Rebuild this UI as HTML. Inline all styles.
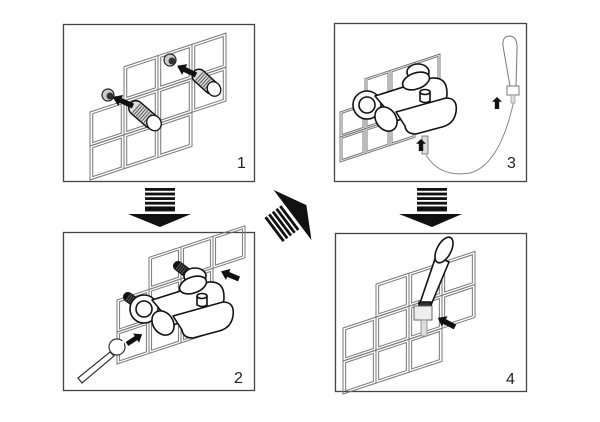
<!DOCTYPE html>
<html><head><meta charset="utf-8"><style>
html,body{margin:0;padding:0;background:#fff;}
svg{display:block;}
text{font-family:"Liberation Sans",sans-serif;font-size:16px;fill:#222;}
</style></head><body>
<svg width="600" height="422" viewBox="0 0 600 422" xmlns="http://www.w3.org/2000/svg">
<defs>
<g id="tile">
<path d="M0,0 L1,-0.33 L1,0.67 L0,1 Z" fill="none" stroke="#777" stroke-width="1" vector-effect="non-scaling-stroke"/>
<path d="M0.08,0.05 L0.92,-0.23 L0.92,0.62 L0.08,0.9 Z" fill="none" stroke="#777" stroke-width="1" vector-effect="non-scaling-stroke"/>
</g>
<path id="arr" d="M0,-2.2 L9,-2.2 L9,-5 L15,0 L9,5 L9,2.2 L0,2.2 Z" fill="#111"/>
<g id="mixer" stroke="#111" stroke-width="1.6" fill="#fff" stroke-linejoin="round">
<circle cx="367" cy="105" r="14"/>
<circle cx="367" cy="105" r="8"/>
<path d="M375,96 L432,78 Q447,77 447,93 Q447,104 438,107 L396,121 Z"/>
<path d="M396,112 L446,98 Q458,98 456,112 Q454,124 442,127 L416,134 Q406,134 405,126 Z"/>
<ellipse cx="418" cy="72" rx="11" ry="8"/>
<ellipse cx="416" cy="81" rx="14" ry="8" transform="rotate(-20 416 81)"/>
<path d="M420,92 L420,101 Q425,104 430,101 L430,92"/>
<ellipse cx="425" cy="92" rx="5" ry="2.5"/>
<ellipse cx="386" cy="119" rx="10" ry="13" transform="rotate(-35 386 119)"/>
</g>
</defs>

<g fill="none" stroke="#444" stroke-width="1.3">
<rect x="63.5" y="24.5" width="191" height="157"/>
<rect x="334.5" y="23.5" width="192" height="158"/>
<rect x="63.5" y="232.5" width="191" height="158"/>
<rect x="335.5" y="233.5" width="191" height="158"/>
</g>

<!-- panel 1 tiles -->
<g transform="translate(90,112) scale(34)">
<use href="#tile" x="0" y="0"/><use href="#tile" x="0" y="1"/>
<use href="#tile" x="1" y="-1.33"/><use href="#tile" x="1" y="-0.33"/><use href="#tile" x="1" y="0.67"/>
<use href="#tile" x="2" y="-1.66"/><use href="#tile" x="2" y="-0.66"/><use href="#tile" x="2" y="0.34"/>
<use href="#tile" x="3" y="-1.99"/><use href="#tile" x="3" y="-0.99"/>
</g>
<g>
<circle cx="108" cy="95" r="6" fill="#ccc" stroke="#222" stroke-width="1.2"/>
<circle cx="110" cy="96" r="3.5" fill="#333"/>
<line x1="136" y1="108" x2="151" y2="121" stroke="#111" stroke-width="16" stroke-linecap="round"/>
<line x1="136" y1="108" x2="151" y2="121" stroke="#ddd" stroke-width="13" stroke-linecap="round"/>
<line x1="136" y1="108" x2="151" y2="121" stroke="#555" stroke-width="12" stroke-dasharray="1 1.5"/>
<ellipse cx="154" cy="123" rx="7" ry="8" fill="#fff" stroke="#111" stroke-width="1.3" transform="rotate(-30 154 123)"/>
<circle cx="170" cy="60" r="6" fill="#ccc" stroke="#222" stroke-width="1.2"/>
<circle cx="172" cy="61" r="3.5" fill="#333"/>
<line x1="199" y1="76" x2="211" y2="87" stroke="#111" stroke-width="15" stroke-linecap="round"/>
<line x1="199" y1="76" x2="211" y2="87" stroke="#ddd" stroke-width="12" stroke-linecap="round"/>
<line x1="199" y1="76" x2="211" y2="87" stroke="#555" stroke-width="11" stroke-dasharray="1 1.5"/>
<ellipse cx="214" cy="89" rx="6.5" ry="7.5" fill="#fff" stroke="#111" stroke-width="1.3" transform="rotate(-30 214 89)"/>
<use href="#arr" transform="translate(133,106) rotate(204) scale(1.5,1.2)"/>
<use href="#arr" transform="translate(196,75) rotate(206) scale(1.4,1.2)"/>
</g>
<text x="237" y="168">1</text>

<!-- panel 3 tiles -->
<g transform="translate(340,112) scale(25)">
<use href="#tile" x="0" y="0"/><use href="#tile" x="0" y="1"/>
<use href="#tile" x="1" y="-1.33"/><use href="#tile" x="1" y="-0.33"/><use href="#tile" x="1" y="0.67"/>
<use href="#tile" x="2" y="-1.66"/><use href="#tile" x="2" y="-0.66"/><use href="#tile" x="2" y="0.34"/>
<use href="#tile" x="3" y="-1.99"/><use href="#tile" x="3" y="-0.99"/>
</g>
<use href="#mixer"/>
<path d="M426,155 Q440,178 470,173 Q500,165 514,100" fill="none" stroke="#888" stroke-width="1"/>
<rect x="422" y="136" width="6" height="18" fill="#ddd" stroke="#666" stroke-width="0.8"/>
<path d="M503,46 Q502,36 510,36 Q518,37 517,50 L516,86 L510,86 Z" fill="#fff" stroke="#777" stroke-width="1"/>
<rect x="507" y="86" width="12" height="9" fill="#fff" stroke="#777" stroke-width="1"/>
<rect x="511" y="95" width="4" height="8" fill="#ddd" stroke="#888" stroke-width="0.6"/>
<use href="#arr" transform="translate(497,109) rotate(-90) scale(0.8,1)"/>
<use href="#arr" transform="translate(421,151) rotate(-90) scale(0.8,1)"/>
<text x="507" y="168">3</text>

<!-- panel 2 tiles -->
<g transform="translate(117,300) scale(32)">
<use href="#tile" x="0" y="0"/><use href="#tile" x="0" y="1"/>
<use href="#tile" x="1" y="-1.33"/><use href="#tile" x="1" y="-0.33"/><use href="#tile" x="1" y="0.67"/>
<use href="#tile" x="2" y="-1.66"/><use href="#tile" x="2" y="-0.66"/><use href="#tile" x="2" y="0.34"/>
<use href="#tile" x="3" y="-1.99"/>
</g>
<line x1="128" y1="297" x2="136" y2="303" stroke="#111" stroke-width="10" stroke-linecap="round"/>
<line x1="128" y1="297" x2="136" y2="303" stroke="#666" stroke-width="8" stroke-dasharray="1 1.3"/>
<line x1="178" y1="266" x2="186" y2="272" stroke="#111" stroke-width="10" stroke-linecap="round"/>
<line x1="178" y1="266" x2="186" y2="272" stroke="#666" stroke-width="8" stroke-dasharray="1 1.3"/>
<g transform="translate(-223,204)"><use href="#mixer"/></g>
<path d="M78,378 L110,352 L114,356 L82,383 Z" fill="#fff" stroke="#333" stroke-width="1.2"/>
<circle cx="117" cy="347" r="8" fill="#fff" stroke="#333" stroke-width="1.2"/>
<path d="M114,344 L124,341 L122,350 Z" fill="#fff" stroke="#fff"/>
<use href="#arr" transform="translate(127,344) rotate(-33) scale(1.2,1.1)"/>
<use href="#arr" transform="translate(239,279) rotate(203) scale(1.3,1.2)"/>
<text x="234" y="383">2</text>

<!-- panel 4 tiles -->
<g transform="translate(343,295) scale(33)">
<use href="#tile" x="0" y="1"/><use href="#tile" x="0" y="2"/>
<use href="#tile" x="1" y="-0.33"/><use href="#tile" x="1" y="0.67"/><use href="#tile" x="1" y="1.67"/>
<use href="#tile" x="2" y="-0.66"/><use href="#tile" x="2" y="0.34"/><use href="#tile" x="2" y="1.34"/>
<use href="#tile" x="3" y="-0.99"/><use href="#tile" x="3" y="0.01"/>
</g>
<g stroke="#111" stroke-width="1.6" fill="#fff" stroke-linejoin="round">
<path d="M436,256 L449,262 L431,305 L420,303 Z"/>
<ellipse cx="444" cy="250" rx="7" ry="14" transform="rotate(28 444 250)"/>
<rect x="419" y="302" width="12" height="4" fill="#333"/>
</g>
<rect x="414" y="306" width="18" height="14" fill="#eee" stroke="#666" stroke-width="1"/>
<rect x="421" y="320" width="6" height="16" fill="#ddd" stroke="#888" stroke-width="0.8"/>
<use href="#arr" transform="translate(455,327) rotate(208) scale(1.3,1.2)"/>
<text x="506" y="384">4</text>

<!-- down arrows -->
<g fill="#111">
<rect x="145" y="188" width="30" height="2.8"/><rect x="145" y="192.6" width="30" height="2.8"/>
<rect x="145" y="197.2" width="30" height="2.8"/><rect x="145" y="201.8" width="30" height="2.8"/>
<rect x="145" y="206.4" width="30" height="5"/>
<path d="M128,214 L191,214 L160,227 Z"/>
<rect x="417" y="188" width="30" height="2.8"/><rect x="417" y="192.6" width="30" height="2.8"/>
<rect x="417" y="197.2" width="30" height="2.8"/><rect x="417" y="201.8" width="30" height="2.8"/>
<rect x="417" y="206.4" width="30" height="5"/>
<path d="M399,214 L462,214 L432,227 Z"/>
</g>
<!-- diagonal arrow pointing up-right -->
<g transform="translate(293,214) rotate(53)" fill="#111">
<rect x="-14" y="4" width="30" height="2.8"/><rect x="-14" y="8.6" width="30" height="2.8"/>
<rect x="-14" y="13.2" width="30" height="2.8"/><rect x="-14" y="17.8" width="30" height="2.8"/>
<rect x="-14" y="22.4" width="30" height="2.8"/>
<path d="M-31,1 L32,1 L1,-16 Z"/>
</g>
</svg>
</body></html>
